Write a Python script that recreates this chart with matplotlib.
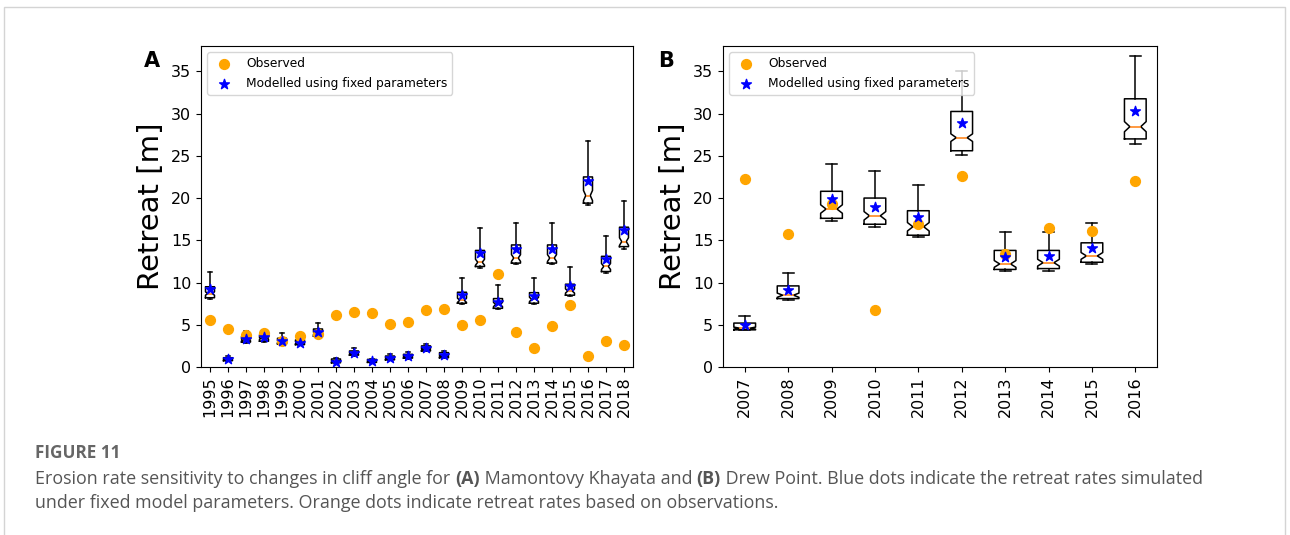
import matplotlib
matplotlib.use("Agg")
import matplotlib.pyplot as plt
from matplotlib.patches import Rectangle

# ---------------- data ----------------
years_a = [str(y) for y in range(1995, 2019)]
obs_a = [5.6, 4.5, 3.8, 4.05, 3.1, 3.7, 3.95, 6.2, 6.55, 6.4, 5.1, 5.3, 6.75, 6.85,
         5.0, 5.6, 11.0, 4.2, 2.2, 4.85, 7.35, 1.3, 3.1, 2.6]
star_a = [9.2, 0.9, 3.3, 3.5, 3.1, 2.9, 4.2, 0.6, 1.7, 0.7, 1.1, 1.3, 2.2, 1.4,
          8.5, 13.5, 7.7, 14.0, 8.45, 14.0, 9.6, 22.0, 12.75, 16.2]
med_a = [8.7, 0.9, 3.2, 3.4, 3.0, 2.9, 4.0, 0.7, 1.6, 0.7, 1.0, 1.2, 2.1, 1.3,
         7.9, 12.4, 7.4, 12.9, 8.0, 12.9, 9.0, 20.3, 11.9, 14.85]
q1_a = [8.2, 0.75, 2.95, 3.05, 2.75, 2.65, 3.65, 0.5, 1.4, 0.55, 0.85, 1.05, 1.9, 1.1,
        7.55, 11.9, 6.95, 12.3, 7.55, 12.3, 8.5, 19.4, 11.3, 14.25]
q3_a = [9.5, 1.1, 3.6, 3.8, 3.4, 3.2, 4.5, 0.95, 1.9, 0.9, 1.3, 1.5, 2.5, 1.7,
        8.85, 13.8, 8.1, 14.45, 8.8, 14.45, 9.8, 22.5, 13.1, 16.55]
lo_a = [8.0, 0.7, 2.9, 3.0, 2.7, 2.6, 3.6, 0.45, 1.35, 0.5, 0.8, 1.0, 1.85, 1.05,
        7.45, 11.75, 6.85, 12.15, 7.45, 12.15, 8.4, 19.2, 11.1, 14.0]
hi_a = [11.3, 1.3, 4.25, 4.4, 4.0, 3.6, 5.2, 1.1, 2.2, 1.0, 1.5, 1.8, 2.7, 1.9,
        10.5, 16.4, 9.7, 17.0, 10.5, 17.0, 11.8, 26.7, 15.5, 19.7]
notch_a = [0.2, 0.05, 0.1, 0.1, 0.1, 0.1, 0.12, 0.05, 0.07, 0.05, 0.06, 0.06, 0.08, 0.07,
           0.25, 0.35, 0.25, 0.4, 0.25, 0.4, 0.25, 0.6, 0.35, 0.45]

years_b = [str(y) for y in range(2007, 2017)]
obs_b = [22.2, 15.8, 19.3, 6.7, 16.9, 22.65, 13.35, 16.5, 16.15, 22.0]
star_b = [5.0, 9.1, 19.85, 19.0, 17.7, 28.85, 13.05, 13.1, 14.05, 30.35]
med_b = [4.6, 8.5, 18.7, 17.9, 16.6, 27.15, 12.2, 12.35, 13.15, 28.45]
q1_b = [4.4, 8.1, 17.6, 16.9, 15.6, 25.6, 11.55, 11.65, 12.4, 27.0]
q3_b = [5.2, 9.6, 20.8, 20.0, 18.5, 30.25, 13.8, 13.8, 14.7, 31.75]
lo_b = [4.35, 7.9, 17.3, 16.55, 15.4, 25.1, 11.35, 11.4, 12.2, 26.4]
hi_b = [6.0, 11.1, 24.05, 23.2, 21.5, 35.0, 15.95, 16.0, 17.0, 36.8]
notch_b = [0.12, 0.25, 0.5, 0.5, 0.5, 0.45, 0.4, 0.4, 0.4, 0.6]

# ---------------- figure ----------------
W, H = 1290, 535
fig = plt.figure(figsize=(W / 100, H / 100), dpi=100)
fig.patch.set_facecolor("white")

# outer light border
fig.patches.append(Rectangle((4 / W, -0.05), (1285 - 4) / W, (H - 7) / H + 0.05,
                             transform=fig.transFigure, fill=False,
                             edgecolor="#d4d4d4", linewidth=1.0))


def panel(rect, labels, obs, star, med, q1, q3, lo, hi, notch):
    ax = fig.add_axes(rect)
    stats = []
    for i in range(len(labels)):
        stats.append(dict(med=med[i], q1=q1[i], q3=q3[i], whislo=lo[i], whishi=hi[i],
                          cilo=med[i] - notch[i], cihi=med[i] + notch[i],
                          fliers=[], label=labels[i]))
    pos = list(range(1, len(labels) + 1))
    ax.bxp(stats, positions=pos, widths=0.5, shownotches=True, showfliers=False,
           boxprops=dict(color="black", linewidth=1.1),
           whiskerprops=dict(color="black", linewidth=1.1),
           capprops=dict(color="black", linewidth=1.1),
           medianprops=dict(color="#ff7f0e", linewidth=1.1))
    ax.scatter(pos, obs, s=50, color="orange", zorder=3, label="Observed")
    ax.scatter(pos, star, s=55, marker="*", color="blue", zorder=4,
               label="Modelled using fixed parameters")
    ax.set_xlim(0.5, len(labels) + 0.5)
    ax.set_ylim(0, 38)
    ax.set_yticks([0, 5, 10, 15, 20, 25, 30, 35])
    ax.set_xticks(pos)
    ax.set_xticklabels(labels, rotation=90)
    ax.tick_params(labelsize=11.5)
    ax.set_ylabel("Retreat [m]", fontsize=21)
    ax.legend(loc="upper left", fontsize=8.8, scatterpoints=1, labelspacing=0.55)
    return ax


axA = panel([201 / W, 1 - 367 / H, (633 - 201) / W, (367 - 46) / H], years_a,
            obs_a, star_a, med_a, q1_a, q3_a, lo_a, hi_a, notch_a)
axB = panel([723 / W, 1 - 367 / H, (1157 - 723) / W, (367 - 46) / H], years_b,
            obs_b, star_b, med_b, q1_b, q3_b, lo_b, hi_b, notch_b)
fig.text(152 / W, 1 - 61 / H, "A", fontsize=15, fontweight="bold", ha="center", va="center")
fig.text(666 / W, 1 - 61 / H, "B", fontsize=15, fontweight="bold", ha="center", va="center")

# ---------------- caption ----------------
cap_color = "#555555"
cfont = "Open Sans"
fig.text(35 / W, 1 - 453 / H, "FIGURE 11", fontsize=12.3, fontweight="bold",
         family=cfont, color="#666666", va="center", ha="left")

renderer = fig.canvas.get_renderer()


def runs(y_px, parts, size=12.9):
    x = 35
    for txt, bold in parts:
        t = fig.text(x / W, 1 - y_px / H, txt, fontsize=size, family=cfont,
                     fontweight="bold" if bold else "normal", color=cap_color,
                     va="center", ha="left")
        bb = t.get_window_extent(renderer=renderer)
        x += bb.width


runs(479, [("Erosion rate sensitivity to changes in cliff angle for ", False),
           ("(A)", True),
           (" Mamontovy Khayata and ", False),
           ("(B)", True),
           (" Drew Point. Blue dots indicate the retreat rates simulated", False)])
runs(503, [("under fixed model parameters. Orange dots indicate retreat rates based on observations.", False)])

fig.savefig("out.png", dpi=100)
